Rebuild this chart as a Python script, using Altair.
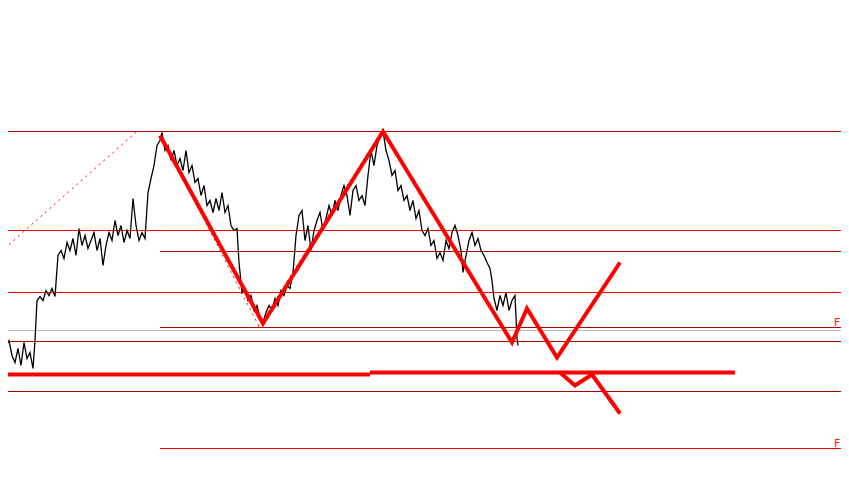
import altair as alt
import pandas as pd

# ---- data (x = bar position, value = price level in chart units) ----
series_x = [0,3,6,9,12,15,18,21,24,27,30,33,35,37,40,43,46,49,52,55,58,61,64,67,70,73,76,79,82,85,
            88,91,94,97,100,103,106,109,112,115,118,121,124,127,130,133,136,139,142,145,148,151,154,157,160,162,165,168,171,174,
            177,180,183,186,189,192,195,198,201,204,207,210,213,216,219,222,225,228,231,234,237,239,242,245,248,251,254,257,260,263,
            266,269,272,275,278,281,284,287,290,293,296,299,302,305,308,311,314,317,320,323,326,329,332,335,338,341,344,347,350,353,
            356,359,362,365,368,371,374,377,380,383,386,389,392,395,398,401,404,407,410,413,416,419,422,425,428,431,434,437,440,443,
            446,449,452,455,458,461,463,466,469,472,475,478,481,484,487,490,492,494,497,500,503,506,509,512,515,517,518]
series_yref = [318,332,345,340,355,362,348,365,342,358,352,368,340,300,296,300,290,295,288,296,255,250,258,242,250,238,255,228,245,235,
               248,240,232,250,238,265,245,232,240,220,235,225,242,230,238,198,225,240,232,238,192,178,165,145,140,132,150,145,160,150,
               165,158,170,150,172,165,182,178,195,185,205,200,212,198,210,192,212,205,225,230,228,262,292,288,300,295,310,305,318,322,
               312,305,310,298,305,290,295,285,288,272,235,215,210,240,225,250,230,220,212,230,218,205,215,200,210,195,185,195,215,190,
               185,200,195,205,175,150,165,145,135,130,150,160,175,170,190,185,200,195,210,200,218,210,230,235,228,245,240,258,252,260,
               240,248,232,225,235,250,272,255,240,232,245,238,250,255,262,268,280,298,310,295,305,292,310,300,295,338,345]
series_value = [485 - y for y in series_yref]

# horizontal levels
level_value = [354, 255, 234, 193, 158, 155, 144, 94, 37]
level_start = [0, 0, 160, 0, 160, 0, 0, 0, 160]
level_end = [849] * 9
level_color = ["#b00000", "#ff0000", "#b00000", "#ff0000", "#b00000", "#bbbbbb", "#b00000", "#b00000", "#ff0000"]

# thick support line
support_x = [7, 370, 370, 735]
support_value = [111, 111, 113, 113]
support_seg = [0, 0, 1, 1]

# zigzag pattern projections
zig_x = [160, 263, 383, 512, 527, 557, 620, 560, 575, 592, 620]
zig_value = [350, 162, 354, 143, 177, 128, 223, 113, 100, 111, 72]
zig_seg = [0, 0, 0, 0, 0, 0, 0, 1, 1, 1, 1]

# dotted guide lines
dot_x = [0, 138, 162, 260, 258, 380]
dot_value = [233, 355, 348, 157, 158, 352]
dot_seg = [0, 0, 1, 1, 2, 2]

label_text = ["F", "F"]
label_x = [834, 834]
label_value = [160, 39]

# ---- build ----
xs = alt.Scale(domain=[8, 841], range=[0, 833])
ys = alt.Scale(domain=[8.5, 477.5])
X = lambda f: alt.X(f, type="quantitative", scale=xs, axis=None)
Y = lambda f: alt.Y(f, type="quantitative", scale=ys, axis=None)

lv = pd.DataFrame({"v": level_value, "x1": level_start, "x2": level_end, "c": level_color})
levels = alt.Chart(lv).mark_rule(strokeWidth=1).encode(
    x=X("x1"), x2="x2", y=Y("v"), color=alt.Color("c:N", scale=None))

sd = pd.DataFrame({"x": series_x, "v": series_value, "i": range(len(series_x))})
series = alt.Chart(sd).mark_line(color="black", strokeWidth=1.3).encode(
    x=X("x"), y=Y("v"), order="i:Q")

dd = pd.DataFrame({"x": dot_x, "v": dot_value, "s": dot_seg, "i": range(len(dot_x))})
dots = alt.Chart(dd).mark_line(color="#ff0000", strokeWidth=1, strokeDash=[2, 4]).encode(
    x=X("x"), y=Y("v"), detail="s:N", order="i:Q")

spd = pd.DataFrame({"x": support_x, "v": support_value, "s": support_seg, "i": range(len(support_x))})
support = alt.Chart(spd).mark_line(color="#ff0000", strokeWidth=4).encode(
    x=X("x"), y=Y("v"), detail="s:N", order="i:Q")

zd = pd.DataFrame({"x": zig_x, "v": zig_value, "s": zig_seg, "i": range(len(zig_x))})
zig = alt.Chart(zd).mark_line(color="#ff0000", strokeWidth=4).encode(
    x=X("x"), y=Y("v"), detail="s:N", order="i:Q")

ld = pd.DataFrame({"t": label_text, "x": label_x, "v": label_value})
labels = alt.Chart(ld).mark_text(color="#ff2000", fontSize=11, align="left", baseline="alphabetic",
                                 font="DejaVu Sans").encode(x=X("x"), y=Y("v"), text="t:N")

chart = alt.layer(levels, dots, series, support, zig, labels).properties(
    width=833, height=469, padding=0, background="white",
    autosize=alt.AutoSizeParams(type="none")
).configure_view(strokeWidth=0, stroke="transparent")

chart.save("out.html", embed_options={"renderer": "svg", "actions": False})
